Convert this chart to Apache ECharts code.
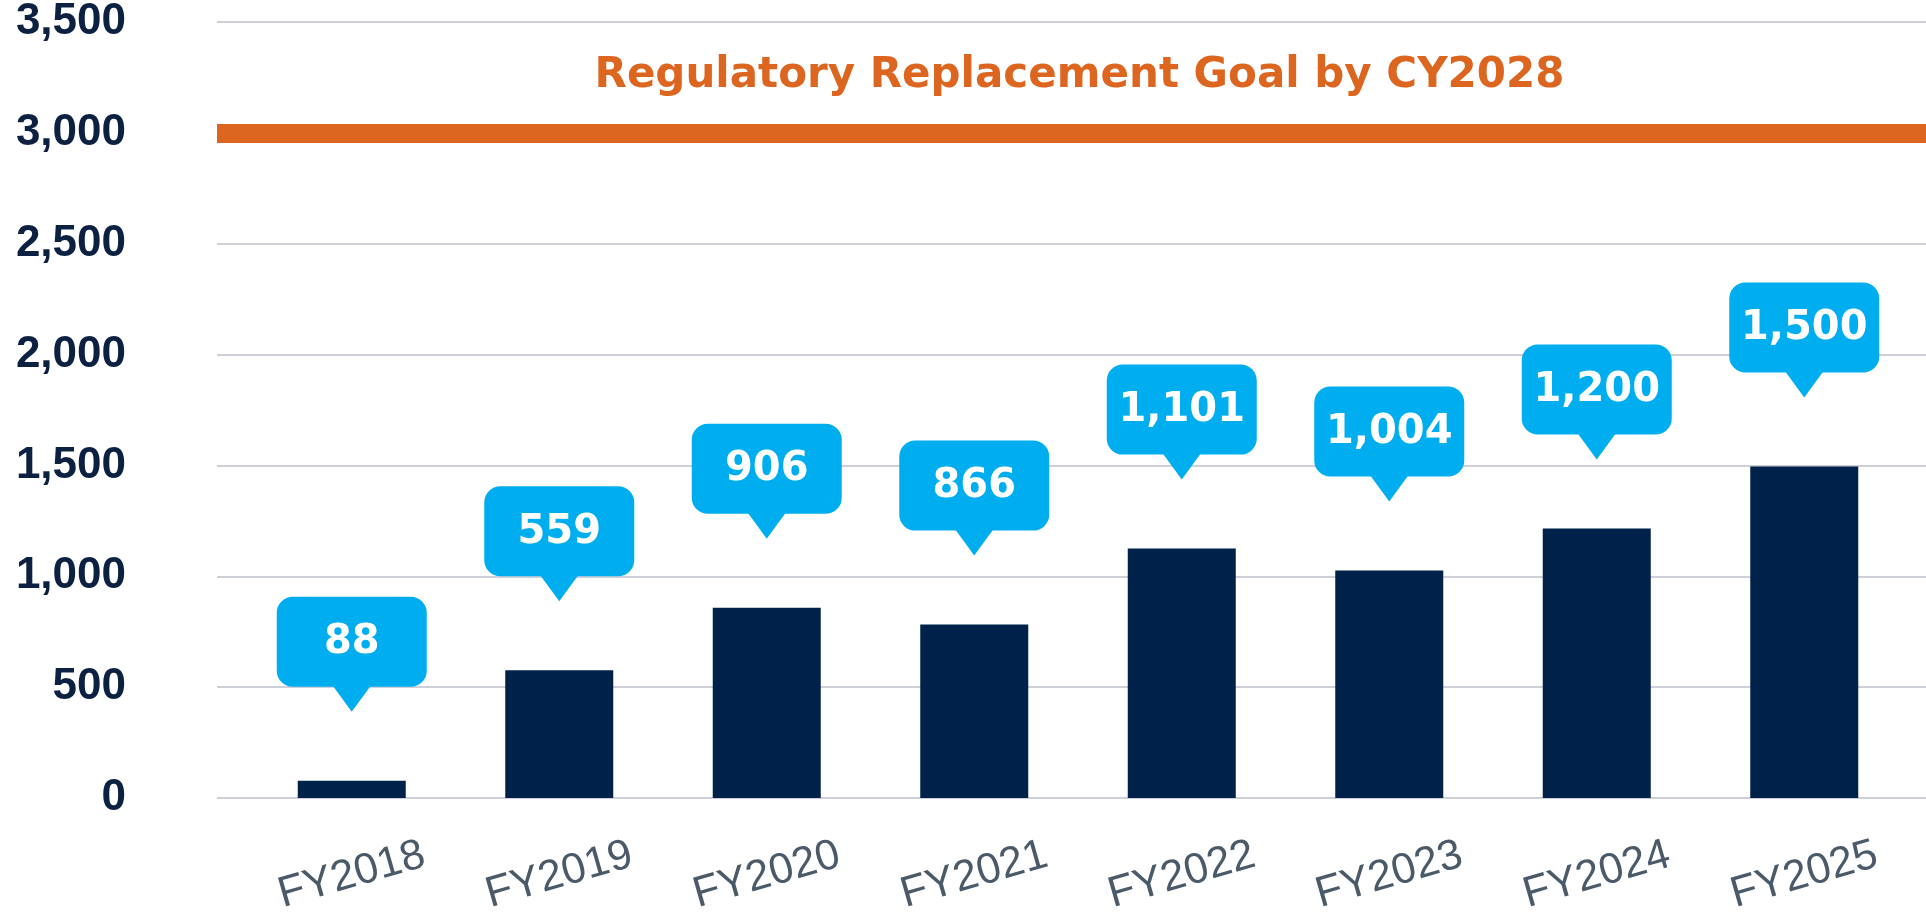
<!DOCTYPE html>
<html>
<head>
<meta charset="utf-8">
<script src="https://cdn.jsdelivr.net/npm/echarts@6/dist/echarts.min.js"></script>
<style>
  html, body { margin: 0; padding: 0; background: #fff; }
  #chart { width: 1926px; height: 913px; }
</style>
</head>
<body>
<div id="chart"></div>
<script>
// data
const years = ["FY2018", "FY2019", "FY2020", "FY2021", "FY2022", "FY2023", "FY2024", "FY2025"];
const barValues = [78, 576, 858, 782, 1125, 1026, 1216, 1495];
const calloutTexts = ["88", "559", "906", "866", "1,101", "1,004", "1,200", "1,500"];
const goalValue = 3000;
const goalText = "Regulatory Replacement Goal by CY2028";

const navy = "#00214a";
const blue = "#00aeef";
const orange = "#dc661f";

const chart = echarts.init(document.getElementById("chart"));

// callout bubble above each bar
function renderCallout(params, api) {
  const pt = api.coord([api.value(0), api.value(1)]);
  const w = 150, h = 90, tipH = 25, tipW = 38;
  return {
    type: "group",
    x: pt[0],
    y: pt[1] - 69,
    children: [
      { type: "rect", shape: { x: -w / 2, y: -tipH - h, width: w, height: h, r: 16 }, style: { fill: blue } },
      { type: "polygon", shape: { points: [[-tipW / 2, -tipH - 1], [tipW / 2, -tipH - 1], [0, 0]] }, style: { fill: blue } },
      {
        type: "text",
        x: 0,
        y: -tipH - h / 2 + 1,
        style: {
          text: calloutTexts[params.dataIndex],
          fill: "#fff",
          font: "bold 40px 'DejaVu Sans', sans-serif",
          align: "center",
          verticalAlign: "middle"
        }
      }
    ]
  };
}

const option = {
  animation: false,
  grid: [
    // full width grid: gridlines, y labels and goal line
    { left: 217, right: 0, top: 22, bottom: 115, outerBoundsMode: "none" },
    // bars sit in a slightly narrower band
    { left: 248, right: 18, top: 22, bottom: 115, outerBoundsMode: "none" }
  ],
  xAxis: [
    { type: "value", gridIndex: 0, min: 0, max: 1, show: false },
    {
      type: "category",
      gridIndex: 1,
      data: years,
      axisLine: { show: false },
      axisTick: { show: false },
      axisLabel: {
        rotate: 16,
        align: "center",
        verticalAlign: "middle",
        margin: 77,
        color: "#4a5a68",
        fontSize: 43,
        fontFamily: "'Liberation Sans', Arial, sans-serif"
      }
    }
  ],
  yAxis: [
    {
      type: "value",
      gridIndex: 0,
      min: 0,
      max: 3500,
      interval: 500,
      axisLine: { show: false },
      axisTick: { show: false },
      splitLine: { lineStyle: { color: "#bcc1cd", width: 1.5 } },
      axisLabel: {
        margin: 91,
        color: "#0c2141",
        fontSize: 44,
        fontWeight: "bold",
        fontFamily: "'Liberation Sans', Arial, sans-serif",
        formatter: (v) => v.toLocaleString("en-US")
      }
    },
    { type: "value", gridIndex: 1, min: 0, max: 3500, interval: 500, show: false }
  ],
  series: [
    {
      type: "line",
      xAxisIndex: 0,
      yAxisIndex: 0,
      data: [],
      markLine: {
        silent: true,
        symbol: "none",
        lineStyle: { color: orange, width: 19, type: "solid" },
        label: {
          show: true,
          position: "insideMiddleTop",
          distance: 36,
          offset: [8, 0],
          formatter: goalText,
          color: orange,
          fontSize: 42,
          fontWeight: "bold",
          fontFamily: "'DejaVu Sans', sans-serif"
        },
        data: [{ yAxis: goalValue }]
      }
    },
    {
      type: "bar",
      xAxisIndex: 1,
      yAxisIndex: 1,
      data: barValues,
      barWidth: 108,
      itemStyle: { color: navy }
    },
    {
      type: "custom",
      xAxisIndex: 1,
      yAxisIndex: 1,
      data: barValues.map((v, i) => [i, v]),
      encode: { x: 0, y: 1 },
      renderItem: renderCallout,
      z: 5
    }
  ]
};

chart.setOption(option);
</script>
</body>
</html>
